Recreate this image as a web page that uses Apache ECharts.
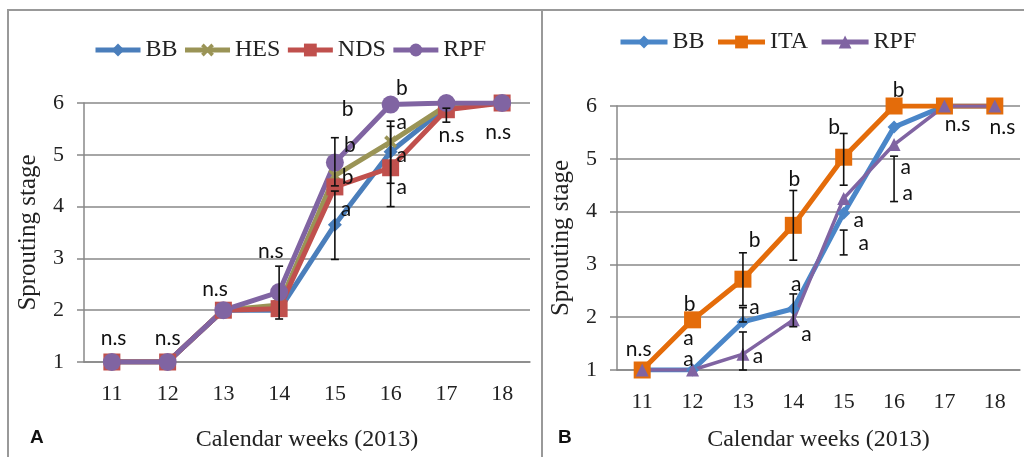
<!DOCTYPE html>
<html>
<head>
<meta charset="utf-8">
<script src="https://cdn.jsdelivr.net/npm/echarts@6/dist/echarts.min.js"></script>
<style>
html, body { margin: 0; padding: 0; background: #fff; overflow: hidden; }
#page { position: relative; width: 1024px; height: 457px; }
.frame { position: absolute; border: 2px solid #999; border-bottom: none; box-sizing: border-box; }
#frameA { left: 7px; top: 9px; width: 536px; height: 460px; border-right: none; }
#frameB { left: 541px; top: 9px; width: 500px; height: 460px; }
#chartA { position: absolute; left: 8px; top: 10px; width: 533px; height: 447px; }
#chartB { position: absolute; left: 541px; top: 10px; width: 483px; height: 447px; }
</style>
</head>
<body>
<div id="page">
  <div class="frame" id="frameA"></div>
  <div class="frame" id="frameB"></div>
  <div id="chartA"></div>
  <div id="chartB"></div>
</div>
<script>
var weeks = ["11", "12", "13", "14", "15", "16", "17", "18"];

// panel A
var bbA = [1, 1, 2, 2.0, 3.65, 5.06, 5.92, 6];
var hesA = [1, 1, 2, 2.1, 4.6, 5.25, 5.95, 6];
var ndsA = [1, 1, 2, 2.03, 4.38, 4.75, 5.87, 6];
var rpfA = [1, 1, 2, 2.35, 4.85, 5.97, 6, 6];
// [week, low, high]
var errA = [[14, 1.83, 2.85], [15, 2.98, 4.3], [15, 4.4, 5.33], [16, 4.0, 5.55], [16, 4.45, 5.65], [17, 5.63, 5.9]];
// [week, stage, text]
var notesA = [
  [11.03, 1.45, "n.s"], [12.0, 1.45, "n.s"], [12.85, 2.4, "n.s"], [13.85, 3.13, "n.s"],
  [15.23, 5.87, "b"], [15.27, 5.19, "b"], [15.23, 4.56, "b"], [15.2, 3.94, "a"],
  [16.2, 6.29, "b"], [16.2, 5.63, "a"], [16.2, 5.0, "a"], [16.2, 4.37, "a"],
  [17.09, 5.38, "n.s"], [17.93, 5.44, "n.s"]
];

// panel B
var bbB = [1, 1, 1.91, 2.16, 3.97, 5.6, 6, 6];
var itaB = [1, 1.95, 2.72, 3.74, 5.03, 6, 6, 6];
var rpfB = [1, 1, 1.3, 1.95, 4.25, 5.27, 6, 6];
var errB = [[13, 2.22, 3.22], [13, 1.0, 1.72], [13, 1.91, 2.18], [14, 3.08, 4.4], [14, 1.82, 2.44],
  [15, 4.5, 5.48], [15, 3.18, 3.65], [16, 4.19, 5.05]];
var notesB = [
  [10.93, 1.39, "n.s"], [11.94, 2.25, "b"], [11.92, 1.6, "a"], [11.92, 1.2, "a"],
  [13.23, 3.46, "b"], [13.23, 2.19, "a"], [13.3, 1.26, "a"],
  [14.02, 4.62, "b"], [14.06, 2.62, "a"], [14.26, 1.67, "a"],
  [14.81, 5.59, "b"], [15.3, 3.84, "a"], [15.4, 3.41, "a"],
  [16.09, 6.3, "b"], [16.23, 4.84, "a"], [16.27, 4.34, "a"],
  [17.26, 5.65, "n.s"], [18.15, 5.6, "n.s"]
];

var SERIF = "Liberation Serif";
var xMark = "path://M0,2L2,0L5,3L8,0L10,2L7,5L10,8L8,10L5,7L2,10L0,8L3,5Z";

function lineSeries(name, data, color, symbol, size, width) {
  return {
    name: name,
    type: "line",
    data: data,
    symbol: symbol,
    symbolSize: size,
    showAllSymbol: true,
    lineStyle: { color: color, width: width },
    itemStyle: { color: color },
    z: 3,
  };
}

function errorSeries(list) {
  return {
    type: "custom",
    data: list.map(function (e) { return [weeks.indexOf(String(e[0])), e[1], e[2]]; }),
    clip: false,
    z: 5,
    renderItem: function (params, api) {
      var x = api.value(0);
      var lo = api.coord([x, api.value(1)]);
      var hi = api.coord([x, api.value(2)]);
      var c = 4;
      var st = { stroke: "#111", lineWidth: 1.6 };
      return {
        type: "group",
        children: [
          { type: "line", shape: { x1: lo[0], y1: lo[1], x2: hi[0], y2: hi[1] }, style: st },
          { type: "line", shape: { x1: lo[0] - c, y1: lo[1], x2: lo[0] + c, y2: lo[1] }, style: st },
          { type: "line", shape: { x1: hi[0] - c, y1: hi[1], x2: hi[0] + c, y2: hi[1] }, style: st },
        ],
      };
    },
  };
}

function noteSeries(list) {
  return {
    type: "custom",
    data: list.map(function (n) { return [Math.round(n[0]) - 11, n[1]]; }),
    clip: false,
    z: 6,
    renderItem: function (params, api) {
      var n = list[params.dataIndex];
      var p = api.coord([api.value(0), api.value(1)]);
      var band = api.size([1, 0])[0];
      return {
        type: "text",
        x: p[0] + (n[0] - Math.round(n[0])) * band,
        y: p[1],
        style: {
          text: n[2],
          fill: "#111",
          font: "21px Lato",
          align: "center",
          verticalAlign: "middle",
        },
      };
    },
  };
}

function baseOption(grid, legend, xGap, yGap, tag, tagPos) {
  return {
    animation: false,
    grid: grid,
    legend: legend,
    graphic: [{
      type: "text",
      left: tagPos[0],
      top: tagPos[1],
      style: { text: tag, font: "bold 19px 'Liberation Sans'", fill: "#111" },
    }],
    xAxis: {
      type: "category",
      data: weeks,
      boundaryGap: true,
      name: "Calendar weeks (2013)",
      nameLocation: "middle",
      nameGap: xGap,
      nameTextStyle: { fontFamily: SERIF, fontSize: 24, color: "#222" },
      axisLine: { lineStyle: { color: "#888", width: 1.5 } },
      axisTick: { show: false },
      axisLabel: { fontFamily: SERIF, fontSize: 22, color: "#222", margin: 21 },
    },
    yAxis: {
      type: "value",
      min: 1,
      max: 6,
      interval: 1,
      name: "Sprouting stage",
      nameLocation: "middle",
      nameGap: yGap,
      nameTextStyle: { fontFamily: SERIF, fontSize: 25, color: "#222" },
      axisLine: { show: true, lineStyle: { color: "#888", width: 1.5 } },
      axisTick: { show: true, length: 7, lineStyle: { color: "#888", width: 1.5 } },
      axisLabel: { fontFamily: SERIF, fontSize: 22, color: "#222", margin: 20 },
      splitLine: { lineStyle: { color: "#888", width: 1.5 } },
    },
  };
}

var chartA = echarts.init(document.getElementById("chartA"));
var optA = baseOption(
  { left: 70, right: 11, top: 93, bottom: 94 },
  {
    data: ["BB", "HES", "NDS", "RPF"],
    left: 80, top: 23, itemWidth: 45, itemHeight: 16, itemGap: 5,
    lineStyle: { width: 5 },
    textStyle: { fontFamily: SERIF, fontSize: 24, color: "#222" },
  },
  66, 43, "A", [22, 418]
);
optA.series = [
  lineSeries("BB", bbA, "#4A7EBB", "diamond", 14, 5),
  lineSeries("HES", hesA, "#9A9456", xMark, 13, 5),
  lineSeries("NDS", ndsA, "#C0504D", "rect", 17, 5),
  lineSeries("RPF", rpfA, "#8064A2", "circle", 18, 5),
  errorSeries(errA),
  noteSeries(notesA),
];
chartA.setOption(optA);

var chartB = echarts.init(document.getElementById("chartB"));
var optB = baseOption(
  { left: 74, right: 4, top: 96, bottom: 83 },
  {
    data: ["BB", "ITA", "RPF"],
    left: 72, top: 15, itemWidth: 47, itemHeight: 16, itemGap: 11,
    lineStyle: { width: 5 },
    textStyle: { fontFamily: SERIF, fontSize: 24, color: "#222" },
  },
  58, 43, "B", [17, 418]
);
optB.series = [
  lineSeries("BB", bbB, "#4A86C8", "diamond", 13, 5),
  lineSeries("ITA", itaB, "#E46C0A", "rect", 17, 5),
  lineSeries("RPF", rpfB, "#8064A2", "triangle", 13, 3.5),
  errorSeries(errB),
  noteSeries(notesB),
];
chartB.setOption(optB);
</script>
</body>
</html>
